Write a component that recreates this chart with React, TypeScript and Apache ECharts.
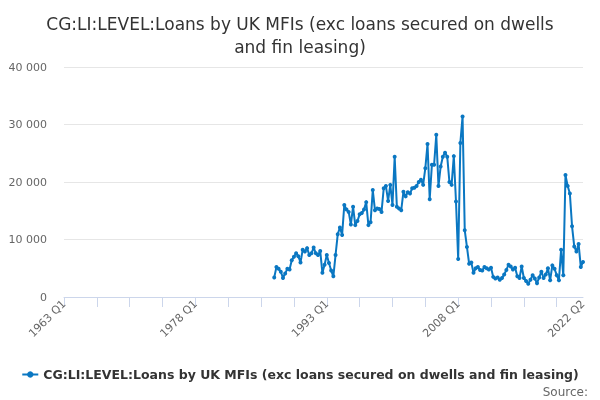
import { useEffect, useRef } from "react";
import * as echarts from "echarts";

const FONT = "DejaVu Sans";
const SERIES_NAME = "CG:LI:LEVEL:Loans by UK MFIs (exc loans secured on dwells and fin leasing)";

// quarters 1963 Q1 .. 2022 Q2
const FIRST_YEAR = 1963;
const LAST_YEAR = 2022;
const LAST_QUARTER = 2;
const quarters: string[] = [];
for (let y = FIRST_YEAR; y <= LAST_YEAR; y++) {
    for (let q = 1; q <= 4; q++) {
        if (y === LAST_YEAR && q > LAST_QUARTER) break;
        quarters.push(`${y} Q${q}`);
    }
}

// first observation: 1987 Q1
const startQuarter = "1987 Q1";
const values: number[] = [
    3400, 5200, 4900, 4400, 3300, 4100, 4900, 4800, 6400, 7000,
    7600, 7100, 6000, 8200, 7900, 8500, 7300, 7600, 8600, 7600,
    7300, 8000, 4200, 5600, 7300, 5900, 4600, 3600, 7300, 10900,
    12100, 10800, 16000, 15200, 14800, 12600, 15700, 12500, 13200, 14400,
    14600, 15200, 16500, 12500, 13000, 18600, 15100, 15400, 15300, 14800,
    18900, 19300, 16700, 19500, 16000, 24400, 15700, 15400, 15100, 18300,
    17500, 18200, 18000, 18900, 19000, 19300, 20000, 20400, 19500, 22400,
    26600, 17000, 23000, 23000, 28200, 19300, 22700, 24400, 25100, 24400,
    20000, 19500, 24500, 16600, 6600, 26800, 31400, 11600, 8700, 5800,
    6000, 4200, 5000, 5200, 4700, 4600, 5200, 5000, 4800, 5100,
    3500, 3200, 3400, 3000, 3300, 3900, 4700, 5600, 5300, 4800,
    5100, 3600, 3300, 5300, 3300, 2800, 2300, 3000, 3800, 3200,
    2400, 3400, 4400, 3300, 3900, 5000, 2900, 5500, 4900, 3800,
    2900, 8200, 3800, 21200, 19300, 18000, 12300, 8800, 7900, 9200,
    5200, 6100,
];

const yTicks = [0, 10000, 20000, 30000, 40000];

export default function App() {
    const chartRef = useRef<HTMLDivElement | null>(null);

    useEffect(() => {
        if (!chartRef.current) return;
        const chart = echarts.init(chartRef.current, undefined, { renderer: "svg" });

        const startIdx = quarters.indexOf(startQuarter);
        const seriesData = quarters.map((_, i) =>
            i >= startIdx && i - startIdx < values.length ? values[i - startIdx] : null
        );
        const lastIdx = quarters.length - 1;

        const option: echarts.EChartsOption = {
            animation: false,
            textStyle: { fontFamily: FONT },
            title: {
                text: "CG:LI:LEVEL:Loans by UK MFIs (exc loans secured on dwells\nand fin leasing)",
                left: "center",
                top: 7,
                textStyle: {
                    color: "#333333",
                    fontSize: 17,
                    fontWeight: "normal",
                    fontFamily: FONT,
                    lineHeight: 23,
                },
            },
            legend: {
                bottom: 14,
                left: "center",
                itemWidth: 16,
                itemHeight: 8,
                itemGap: 6,
                textStyle: { color: "#333333", fontSize: 12.5, fontWeight: "bold", fontFamily: FONT },
                data: [SERIES_NAME],
            },
            graphic: [
                {
                    type: "text",
                    right: 12,
                    bottom: 2,
                    style: { text: "Source:", fill: "#666666", fontSize: 12, fontFamily: FONT },
                },
            ],
            grid: {
                left: 64,
                right: 17,
                top: 67,
                bottom: 103,
            },
            xAxis: {
                type: "category",
                data: quarters,
                boundaryGap: false,
                axisLine: { lineStyle: { color: "#ccd6eb" } },
                axisTick: {
                    length: 10,
                    interval: (i: number) => i % 15 === 0,
                    lineStyle: { color: "#ccd6eb" },
                },
                axisLabel: {
                    interval: (i: number) => i % 60 === 0 || i === lastIdx,
                    rotate: 45,
                    margin: 5,
                    color: "#666666",
                    fontSize: 11,
                    fontFamily: FONT,
                },
            },
            yAxis: {
                type: "value",
                min: yTicks[0],
                max: yTicks[yTicks.length - 1],
                interval: yTicks[1] - yTicks[0],
                axisLine: { show: false },
                axisTick: { show: false },
                splitLine: { lineStyle: { color: "#e6e6e6" } },
                axisLabel: {
                    margin: 17,
                    color: "#666666",
                    fontSize: 11,
                    fontFamily: FONT,
                    formatter: (v: number) => String(v).replace(/\B(?=(\d{3})+(?!\d))/g, " "),
                },
            },
            series: [
                {
                    name: SERIES_NAME,
                    type: "line",
                    data: seriesData,
                    symbol: "circle",
                    symbolSize: 4,
                    showSymbol: true,
                    showAllSymbol: true,
                    lineStyle: { color: "#0a77c2", width: 2 },
                    itemStyle: { color: "#0a77c2" },
                },
            ],
        };

        chart.setOption(option);
        return () => {
            chart.dispose();
        };
    }, []);

    return (
        <div
            ref={chartRef}
            style={{ position: "fixed", left: 0, top: 0, width: "600px", height: "400px" }}
        />
    );
}
